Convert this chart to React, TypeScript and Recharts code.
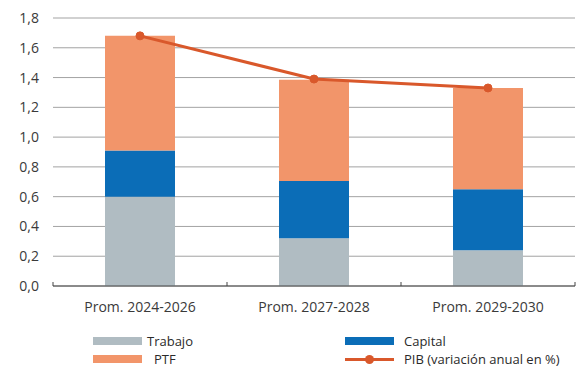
import {
  Bar,
  CartesianGrid,
  ComposedChart,
  Legend,
  Line,
  XAxis,
  YAxis,
} from "recharts";

const categories = ["Prom. 2024-2026", "Prom. 2027-2028", "Prom. 2029-2030"];
const trabajo = [0.6, 0.32, 0.24];
const capital = [0.31, 0.385, 0.41];
const ptf = [0.77, 0.68, 0.68];
const pib = [1.68, 1.39, 1.33];
const yTicks = [0, 0.2, 0.4, 0.6, 0.8, 1.0, 1.2, 1.4, 1.6, 1.8];

const data = categories.map((name, i) => ({
  name,
  trabajo: trabajo[i],
  capital: capital[i],
  ptf: ptf[i],
  pib: pib[i],
}));

const W = 580;
const H = 367;
const LEFT = 53;
const RIGHT = 5;
const BAND = (W - LEFT - RIGHT) / categories.length;

const FONT = "'Open Sans', sans-serif";
const C_TRABAJO = "#b0bcc2";
const C_CAPITAL = "#0b6db7";
const C_PTF = "#f2956a";
const C_PIB = "#d9582b";

function XTick(props: any) {
  const { x, y, payload, index } = props;
  const last = index === categories.length - 1;
  return (
    <g>
      <line x1={x - BAND / 2} x2={x - BAND / 2} y1={y - 4} y2={y} stroke="#444" />
      {last && <line x1={x + BAND / 2} x2={x + BAND / 2} y1={y - 4} y2={y} stroke="#444" />}
      <text x={x} y={y + 26} textAnchor="middle" fontSize={14} fill="#3a3a3a" fontFamily={FONT}>
        {payload.value}
      </text>
    </g>
  );
}

function LegendBox() {
  const txt = { position: "absolute" as const, fontSize: 13, color: "#2a2a2a", fontFamily: FONT, lineHeight: "16px" };
  const sw = (left: number, top: number, color: string) => (
    <div style={{ position: "absolute", left, top, width: 49, height: 8, background: color }} />
  );
  return (
    <div style={{ position: "relative", width: W, height: 51 }}>
      {sw(93, 21, C_TRABAJO)}
      <span style={{ ...txt, left: 147, top: 17 }}>Trabajo</span>
      {sw(93, 39, C_PTF)}
      <span style={{ ...txt, left: 154, top: 35 }}>PTF</span>
      {sw(345, 21, C_CAPITAL)}
      <span style={{ ...txt, left: 404, top: 17 }}>Capital</span>
      <div style={{ position: "absolute", left: 345, top: 42, width: 49, height: 3, background: C_PIB }} />
      <div style={{ position: "absolute", left: 365, top: 39, width: 9, height: 9, borderRadius: 5, background: C_PIB }} />
      <span style={{ ...txt, left: 404, top: 35 }}>PIB (variación anual en %)</span>
    </div>
  );
}

export default function App() {
  return (
    <div style={{ position: "absolute", left: 0, top: 0, background: "#fff" }}>
      <ComposedChart
        width={W}
        height={H}
        data={data}
        margin={{ top: 18, right: RIGHT, bottom: 0, left: 0 }}
      >
        <CartesianGrid vertical={false} stroke="#a3a3a3" />
        <XAxis
          dataKey="name"
          height={30}
          tick={<XTick />}
          tickLine={false}
          tickSize={0}
          tickMargin={0}
          axisLine={{ stroke: "#444" }}
          interval={0}
        />
        <YAxis
          width={LEFT}
          domain={[0, 1.8]}
          ticks={yTicks}
          tickFormatter={(v: number) => v.toFixed(1).replace(".", ",")}
          tickLine={false}
          axisLine={false}
          tickSize={0}
          tickMargin={14}
          tick={{ fontSize: 14, fill: "#3a3a3a", fontFamily: FONT }}
        />
        <Legend verticalAlign="bottom" height={51} content={<LegendBox />} wrapperStyle={{ left: 0, bottom: 0, width: W }} />
        <Bar dataKey="trabajo" name="Trabajo" stackId="a" fill={C_TRABAJO} barSize={70} isAnimationActive={false} />
        <Bar dataKey="capital" name="Capital" stackId="a" fill={C_CAPITAL} barSize={70} isAnimationActive={false} />
        <Bar dataKey="ptf" name="PTF" stackId="a" fill={C_PTF} barSize={70} isAnimationActive={false} />
        <Line
          dataKey="pib"
          name="PIB (variación anual en %)"
          stroke={C_PIB}
          strokeWidth={3}
          dot={{ r: 4, fill: C_PIB, stroke: C_PIB, strokeWidth: 1 }}
          isAnimationActive={false}
        />
      </ComposedChart>
    </div>
  );
}
